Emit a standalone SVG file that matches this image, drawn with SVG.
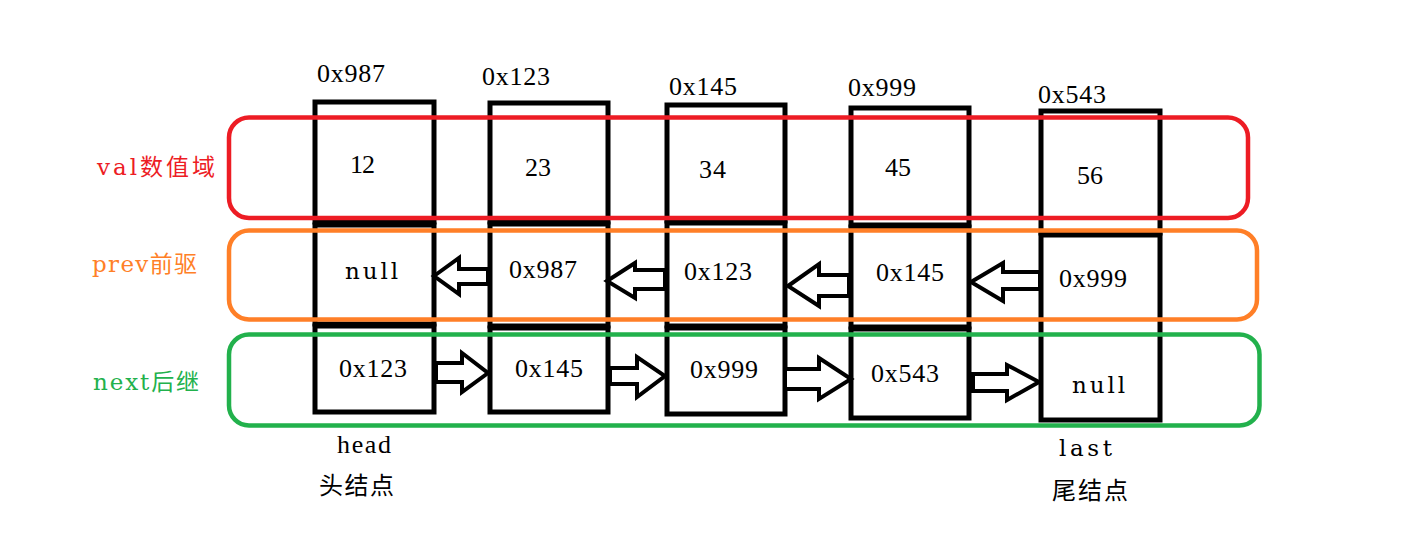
<svg xmlns="http://www.w3.org/2000/svg" width="1403" height="552" viewBox="0 0 1403 552">
<style>
.box{fill:none;stroke:#000;stroke-width:5}
.band{fill:none;stroke-width:4.5}
.arr{fill:#fff;stroke:#000;stroke-width:4;stroke-linejoin:miter}
.t{font-family:"Liberation Serif","Noto Sans CJK SC",serif;font-size:26px;fill:#000}
.w{font-family:"DejaVu Serif","Liberation Serif",serif;font-size:23px;fill:#000}
.lab{font-family:"DejaVu Serif","Noto Sans CJK SC",serif;font-size:23px}
.cn{font-family:"Noto Sans CJK SC","Liberation Serif",serif;font-size:24px;fill:#000}
</style>
<rect width="1403" height="552" fill="#fff"/>
<g id="node1">
<rect class="box" x="315" y="102" width="119" height="120"/>
<rect class="box" x="315" y="225" width="119" height="99"/>
<rect class="box" x="315" y="326" width="119" height="86"/>
</g>
<g id="node2">
<rect class="box" x="490" y="103" width="118" height="119"/>
<rect class="box" x="490" y="224" width="118" height="102"/>
<rect class="box" x="490" y="328" width="118" height="84"/>
</g>
<g id="node3">
<rect class="box" x="667" y="105" width="118" height="116"/>
<rect class="box" x="667" y="223" width="118" height="103"/>
<rect class="box" x="667" y="328" width="118" height="86"/>
</g>
<g id="node4">
<rect class="box" x="851" y="108" width="118" height="117"/>
<rect class="box" x="851" y="227" width="118" height="100"/>
<rect class="box" x="851" y="329" width="118" height="89"/>
</g>
<g id="node5">
<rect class="box" x="1041" y="111" width="119" height="122"/>
<rect class="box" x="1041" y="235" width="119" height="185"/>
</g>
<g id="bands">
<rect class="band" x="229" y="117.5" width="1019" height="100.5" rx="20" stroke="#ED1C24"/>
<rect class="band" x="229" y="230.5" width="1028" height="89" rx="20" stroke="#FF7F27"/>
<rect class="band" x="229" y="334.5" width="1030.5" height="91" rx="20" stroke="#22B14C"/>
</g>
<g id="connectors">
<polygon class="arr" points="434,276 459,258 459,269 488,269 488,284 459,284 459,294"/>
<polygon class="arr" points="607,281 635,263 635,270 665,270 665,289 635,289 635,298"/>
<polygon class="arr" points="788,286 819,264 819,275 849,275 849,296 819,296 819,306"/>
<polygon class="arr" points="971,282 1003,263 1003,272 1040,272 1040,289 1003,289 1003,301"/>
<polygon class="arr" points="436,363 462,363 462,353 488,373 462,392 462,382 436,382"/>
<polygon class="arr" points="610,368 637,368 637,357 665,376 637,397 637,384 610,384"/>
<polygon class="arr" points="785,369 819,369 819,358 851,379 819,399 819,389 785,389"/>
<polygon class="arr" points="973,374 1007,374 1007,365 1039,382 1007,400 1007,391 973,391"/>
</g>
<g id="texts">
<text class="t" x="317" y="82" textLength="68">0x987</text>
<text class="t" x="482" y="85" textLength="68">0x123</text>
<text class="t" x="669" y="95" textLength="68">0x145</text>
<text class="t" x="848" y="96" textLength="68">0x999</text>
<text class="t" x="1038" y="103" textLength="68">0x543</text>
<text class="t" x="350" y="173" textLength="25">12</text>
<text class="t" x="525" y="176" textLength="26">23</text>
<text class="t" x="699" y="178" textLength="27">34</text>
<text class="t" x="885" y="176" textLength="26">45</text>
<text class="t" x="1077" y="184" textLength="26">56</text>
<text class="w" x="345" y="279" textLength="53">null</text>
<text class="t" x="509" y="278" textLength="68">0x987</text>
<text class="t" x="684" y="280" textLength="68">0x123</text>
<text class="t" x="876" y="281" textLength="68">0x145</text>
<text class="t" x="1059" y="287" textLength="68">0x999</text>
<text class="t" x="339" y="377" textLength="68">0x123</text>
<text class="t" x="515" y="377" textLength="68">0x145</text>
<text class="t" x="690" y="378" textLength="68">0x999</text>
<text class="t" x="871" y="382" textLength="68">0x543</text>
<text class="w" x="1072" y="393" textLength="53">null</text>
<text class="t" x="337" y="453" textLength="54">head</text>
<text class="w" x="1059" y="456" textLength="53">last</text>
<text class="cn" x="319" y="494" textLength="75">头结点</text>
<text class="cn" x="1052" y="499" textLength="76">尾结点</text>
<text class="lab" x="97" y="175" textLength="118" fill="#ED1C24">val数值域</text>
<text class="lab" x="92" y="272" textLength="105" fill="#FF7F27">prev前驱</text>
<text class="lab" x="93" y="390" textLength="106" fill="#22B14C">next后继</text>
</g>
</svg>
